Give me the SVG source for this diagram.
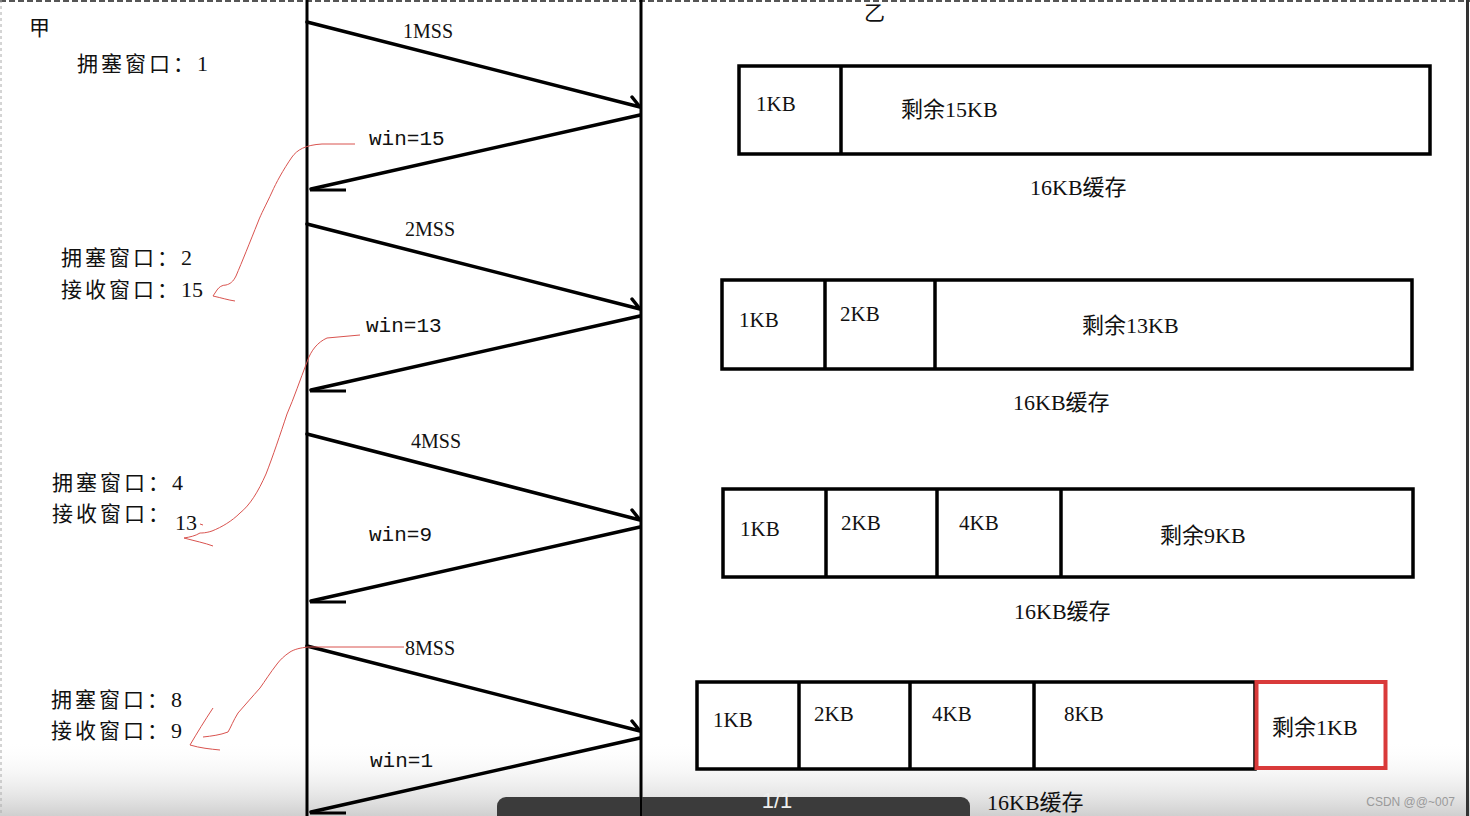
<svg xmlns="http://www.w3.org/2000/svg" width="1470" height="816" viewBox="0 0 1470 816">
<defs>
<linearGradient id="shade" x1="0" y1="0" x2="0" y2="1">
<stop offset="0" stop-color="#ffffff" stop-opacity="0"/>
<stop offset="1" stop-color="#cfcfcf" stop-opacity="1"/>
</linearGradient>
</defs>
<style>
.life{stroke:#000;stroke-width:3;fill:none}
.msg{stroke:#000;stroke-width:3.5;fill:none;stroke-linecap:round}
.tick{stroke:#000;stroke-width:3;fill:none}
.red{stroke:#d9534f;stroke-width:1;fill:none}
.lbl{font-family:"Liberation Serif","Noto Sans CJK SC",serif;font-size:20px;fill:#111}
.mono{font-family:"Liberation Mono","Noto Sans CJK SC",monospace;font-size:21px;fill:#111}
.cn{font-family:"Liberation Serif","Noto Sans CJK SC",serif;font-size:21px;fill:#111;letter-spacing:3px}
.num{letter-spacing:0;font-size:22px}
.kb{font-family:"Liberation Serif","Noto Sans CJK SC",serif;font-size:21px;fill:#111}
.wide{font-size:22px}
.cap{font-family:"Liberation Serif","Noto Sans CJK SC",serif;font-size:22px;fill:#111}
.box{fill:#fff;stroke:#000;stroke-width:3.5}
.div{stroke:#000;stroke-width:3.5}
</style>
<rect x="0" y="0" width="1470" height="816" fill="#ffffff"/>
<rect x="0" y="740" width="1470" height="76" fill="url(#shade)"/>
<line x1="0" y1="1" x2="1470" y2="1" stroke="#555" stroke-width="2" stroke-dasharray="6 3"/>
<line x1="1" y1="0" x2="1" y2="816" stroke="#aaa" stroke-width="1" stroke-dasharray="3 3"/>
<line x1="1467.5" y1="0" x2="1467.5" y2="816" stroke="#333" stroke-width="3"/>

<g id="party-a">
<text class="cn" x="29" y="35">甲</text>
<line class="life" x1="307" y1="0" x2="307" y2="816"/>
</g>
<g id="party-b">
<text class="cn" x="864" y="20">乙</text>
<line class="life" x1="641" y1="0" x2="641" y2="816"/>
</g>

<g id="state1">
<text class="cn" x="77" y="71">拥塞窗口：<tspan class="num">1</tspan></text>
</g>
<g id="state2">
<text class="cn" x="61" y="265">拥塞窗口：<tspan class="num">2</tspan></text>
<text class="cn" x="61" y="297">接收窗口：<tspan class="num">15</tspan></text>
</g>
<g id="state3">
<text class="cn" x="52" y="490">拥塞窗口：<tspan class="num">4</tspan></text>
<text class="cn" x="52" y="521">接收窗口：</text>
<text class="cn num" x="175" y="530">13</text>
</g>
<g id="state4">
<text class="cn" x="51" y="707">拥塞窗口：<tspan class="num">8</tspan></text>
<text class="cn" x="51" y="738">接收窗口：<tspan class="num">9</tspan></text>
</g>

<g id="connectors">
<path class="msg" d="M307,22 L640,107 M632,97 L640,107"/>
<path class="msg" d="M640,115 L311,189"/>
<line class="tick" x1="310" y1="190" x2="346" y2="190"/>
<path class="msg" d="M307,224 L640,309 M632,299 L640,309"/>
<path class="msg" d="M640,316 L311,390"/>
<line class="tick" x1="310" y1="391" x2="346" y2="391"/>
<path class="msg" d="M307,434 L640,520 M632,510 L640,520"/>
<path class="msg" d="M640,527 L311,601"/>
<line class="tick" x1="310" y1="602" x2="346" y2="602"/>
<path class="msg" d="M307,646 L640,731 M632,721 L640,731"/>
<path class="msg" d="M640,738 L311,812"/>
<line class="tick" x1="310" y1="813" x2="346" y2="813"/>

<text class="lbl" x="403" y="38">1MSS</text>
<text class="mono" x="369" y="145">win=15</text>
<text class="lbl" x="405" y="236">2MSS</text>
<text class="mono" x="366" y="332">win=13</text>
<text class="lbl" x="411" y="448">4MSS</text>
<text class="mono" x="369" y="541">win=9</text>
<text class="lbl" x="405" y="655">8MSS</text>
<text class="mono" x="370" y="767">win=1</text>

<path class="red" d="M355,144 L322,144 C305,145 297,150 292,157 C283,170 276,183 272,192 C266,205 261,214 258,222 C250,242 242,262 236,276 C233,282 230,284 226,285 C222,285 219,287 217,290 L213,296 C222,298 228,300 235,301"/>
<path class="red" d="M360,335 L327,338 C318,342 311,350 307,362 C300,380 294,398 287,414 C280,435 273,456 266,474 C258,492 250,505 240,513 C232,521 222,527 212,531 C206,533 202,533 200,533 C195,536 190,537 184,538 C195,541 205,543 213,546"/>
<path class="red" d="M200,524 L203,525"/>
<path class="red" d="M404,647 L308,647 C300,648 295,649 290,652 C284,656 280,660 277,664 C270,673 265,681 260,688 C252,697 245,705 238,713 C233,721 231,727 228,732 C220,735 212,736 203,737"/>
<path class="red" d="M213,708 C205,720 197,733 190,745 C200,748 210,749 220,750"/>
</g>

<g id="buffer1">
<rect class="box" x="739" y="66" width="691" height="88"/>
<line class="div" x1="841" y1="66" x2="841" y2="154"/>
<text class="kb" x="756" y="111">1KB</text>
<text class="kb wide" x="901" y="117">剩余15KB</text>
<text class="cap" x="1030" y="195">16KB缓存</text>
</g>
<g id="buffer2">
<rect class="box" x="722" y="280" width="690" height="89"/>
<line class="div" x1="825" y1="280" x2="825" y2="369"/>
<line class="div" x1="935" y1="280" x2="935" y2="369"/>
<text class="kb" x="739" y="327">1KB</text>
<text class="kb" x="840" y="321">2KB</text>
<text class="kb wide" x="1082" y="333">剩余13KB</text>
<text class="cap" x="1013" y="410">16KB缓存</text>
</g>
<g id="buffer3">
<rect class="box" x="723" y="489" width="690" height="88"/>
<line class="div" x1="826" y1="489" x2="826" y2="577"/>
<line class="div" x1="937" y1="489" x2="937" y2="577"/>
<line class="div" x1="1061" y1="489" x2="1061" y2="577"/>
<text class="kb" x="740" y="536">1KB</text>
<text class="kb" x="841" y="530">2KB</text>
<text class="kb" x="959" y="530">4KB</text>
<text class="kb wide" x="1160" y="543">剩余9KB</text>
<text class="cap" x="1014" y="619">16KB缓存</text>
</g>
<g id="buffer4">
<rect class="box" x="697" y="682" width="558" height="87"/>
<line class="div" x1="799" y1="682" x2="799" y2="769"/>
<line class="div" x1="910" y1="682" x2="910" y2="769"/>
<line class="div" x1="1034" y1="682" x2="1034" y2="769"/>
<rect x="1256.5" y="682" width="129" height="86" fill="#fff" stroke="#d93a3a" stroke-width="4"/>
<text class="kb" x="713" y="727">1KB</text>
<text class="kb" x="814" y="721">2KB</text>
<text class="kb" x="932" y="721">4KB</text>
<text class="kb" x="1064" y="721">8KB</text>
<text class="kb wide" x="1272" y="735">剩余1KB</text>
<text class="cap" x="987" y="810">16KB缓存</text>
</g>

<g id="overlay">
<rect x="497" y="797" width="473" height="30" rx="9" fill="#3b3b3b"/>
<line x1="641" y1="797" x2="641" y2="816" stroke="#000" stroke-width="2"/>
<text x="777" y="808" text-anchor="middle" font-family="Liberation Sans, sans-serif" font-size="22" fill="#eeeeee">1/1</text>
<text x="1455" y="806" text-anchor="end" font-family="Liberation Sans, sans-serif" font-size="12" fill="#9a9a9a">CSDN @@~007</text>
</g>
</svg>
